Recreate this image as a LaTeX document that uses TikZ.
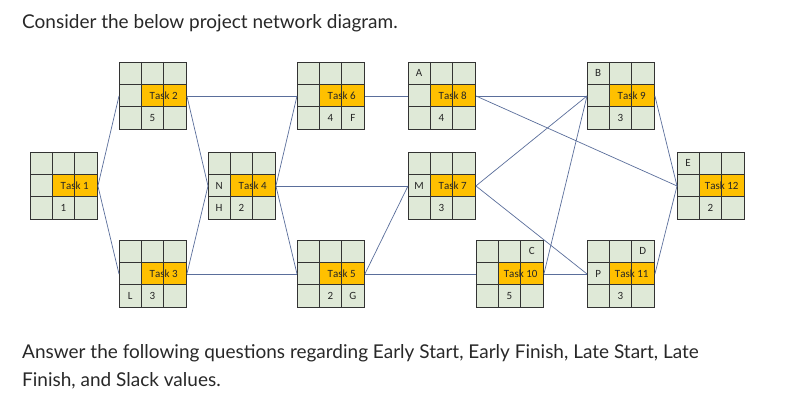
\documentclass[tikz,border=0pt]{standalone}
\usepackage{fontspec}
\setmainfont{Lato}
\newfontfamily\cellfont{Carlito}[Ligatures=NoCommon,Kerning=Off]
\definecolor{cellg}{RGB}{223,233,215}
\definecolor{cello}{RGB}{255,192,0}
\definecolor{edgec}{RGB}{90,110,155}
\definecolor{txt}{RGB}{40,40,40}
\usetikzlibrary{calc}
\tikzset{
  box/.style={draw=black!80,line width=0.9pt,fill=cellg,minimum width=67pt,minimum height=67pt,anchor=north west,inner sep=0pt},
  cl/.style={font=\cellfont\fontsize{11}{12}\selectfont,text=black!85},
  conn/.style={draw=edgec,line width=0.7pt},
  para/.style={font=\fontsize{19}{23}\selectfont,text=txt,anchor=base west,inner sep=0pt}
}
\newcommand\tbox[9]{%
  \node[box] (#1) at (#2) {};
  \fill[cello] ($(#1.north west)+(22.33pt,-22.33pt)$) rectangle ($(#1.north west)+(67pt,-44.67pt)$);
  \foreach \i in {1,2}{
    \draw[black!80,line width=0.9pt] ($(#1.north west)+(\i*22.33pt,0)$) -- ++(0,-67pt);
    \draw[black!80,line width=0.9pt] ($(#1.north west)+(0,-\i*22.33pt)$) -- ++(67pt,0);}
  \draw[black!80,line width=0.9pt] (#1.north west) rectangle (#1.south east);
  \node[cl] at ($(#1.north west)+(44.67pt,-33.5pt)$) {#3};
  \node[cl] at ($(#1.north west)+(11.17pt,-11.17pt)$) {#4};
  \node[cl] at ($(#1.north west)+(55.83pt,-11.17pt)$) {#5};
  \node[cl] at ($(#1.north west)+(11.17pt,-33.5pt)$) {#6};
  \node[cl] at ($(#1.north west)+(11.17pt,-55.83pt)$) {#7};
  \node[cl] at ($(#1.north west)+(33.5pt,-55.83pt)$) {#8};
  \node[cl] at ($(#1.north west)+(55.83pt,-55.83pt)$) {#9};
}
\begin{document}
\begin{tikzpicture}[x=1pt,y=-1pt]
\useasboundingbox[fill=white] (0,0) rectangle (811,406);
\node[para] (t1) at (22,29) {Consider the below project network diagram.};
\node[para] (t2) at (22,358) {Answer the following questions regarding Early Start, Early Finish, Late Start, Late};
\node[para] (t3) at (22,386) {Finish, and Slack values.};
\tbox{n1}{30,152}{Task 1}{}{}{}{}{1}{}
\tbox{n2}{119,62}{Task 2}{}{}{}{}{5}{}
\tbox{n3}{119,240}{Task 3}{}{}{}{L}{3}{}
\tbox{n4}{208,152}{Task 4}{}{}{N}{H}{2}{}
\tbox{n6}{297,62}{Task 6}{}{}{}{}{4}{F}
\tbox{n5}{297,240}{Task 5}{}{}{}{}{2}{G}
\tbox{n8}{408,62}{Task 8}{A}{}{}{}{4}{}
\tbox{n7}{408,152}{Task 7}{}{}{M}{}{3}{}
\tbox{n10}{476,240}{Task 10}{}{C}{}{}{5}{}
\tbox{n9}{587,62}{Task 9}{B}{}{}{}{3}{}
\tbox{n11}{587,240}{Task 11}{}{D}{P}{}{3}{}
\tbox{n12}{677,152}{Task 12}{E}{}{}{}{2}{}
\foreach \a/\b in {n1/n2,n1/n3,n2/n6,n2/n4,n3/n4,n3/n5,n4/n6,n4/n7,n4/n5,n6/n8,n5/n7,n5/n10,n8/n9,n8/n12,n7/n9,n7/n11,n10/n9,n10/n11,n9/n12,n11/n12}
  \draw[conn] (\a.east) -- (\b.west);
\end{tikzpicture}
\end{document}
